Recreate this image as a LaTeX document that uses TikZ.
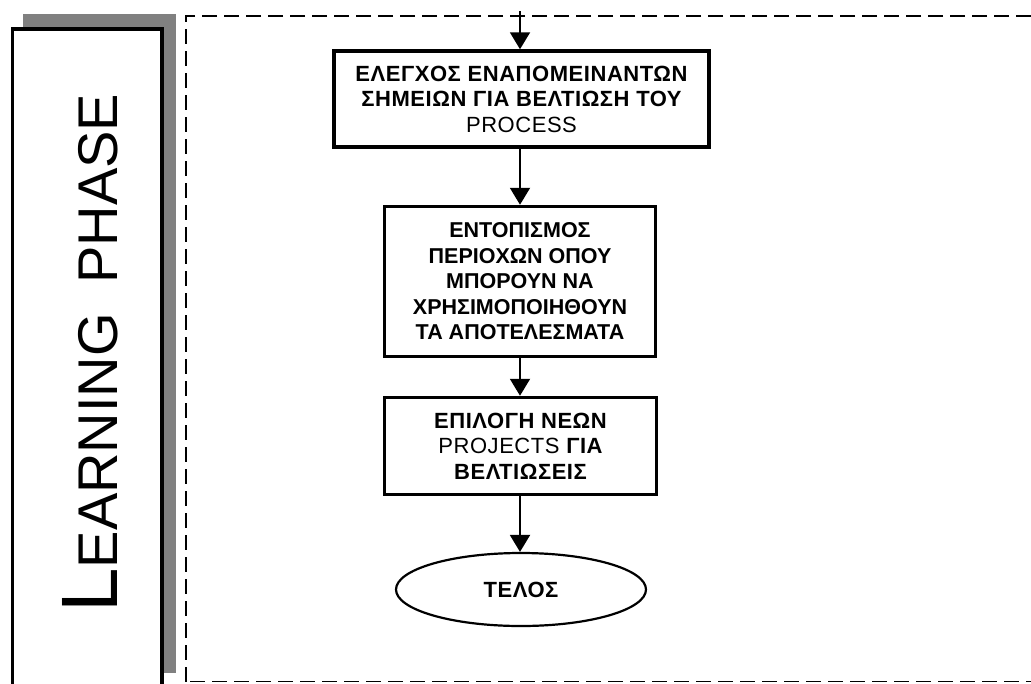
\documentclass[tikz,border=0pt]{standalone}
\usepackage{fontspec}
\setmainfont{Liberation Sans}
\newfontfamily\widebox[LetterSpace=2.5]{Liberation Sans}
\usetikzlibrary{arrows.meta,shapes.geometric}

\tikzset{
  flowbox/.style={draw=black, line width=3.5pt, fill=white, align=center,
    inner sep=0pt, font=\widebox\bfseries\fontsize{22}{25.5}\selectfont},
  tightbox/.style={flowbox, font=\bfseries\fontsize{21.5}{25.5}\selectfont},
  endnode/.style={draw=black, line width=2.2pt, ellipse, inner sep=0pt,
    minimum width=250pt, minimum height=73pt,
    font=\widebox\bfseries\fontsize{22}{25}\selectfont},
  flow/.style={line width=2pt, -{Triangle[width=20pt,length=17pt]}},
  frame/.style={line width=1.6pt, dash pattern=on 15pt off 7pt},
  phasebox/.style={draw=black, line width=3.5pt, fill=white},
  shadowbox/.style={fill=black!50, draw=none},
}
\newcommand{\rg}[1]{{\mdseries #1}}

\begin{document}
\begin{tikzpicture}[x=1pt, y=-1pt]
  \useasboundingbox (0,0) rectangle (1031,683);

  % side panel with its shadow
  \fill[shadowbox] (23,14) rectangle (176,673);
  \draw[phasebox] (12.5,29) rectangle (162,690);
  \node[rotate=90, anchor=base west, inner sep=0pt] (phase) at (117,613)
    {{\fontsize{80}{80}\selectfont L}{\fontsize{56}{56}\selectfont EARNING\hspace{14pt} PHASE}};

  % dashed frame of the phase area
  \draw[frame] (1031,16) -- (186,16) -- (186,683);
  \draw[frame] (190,681.5) -- (1031,681.5);

  % flow chart
  \coordinate (in) at (520,11);
  \node[flowbox, minimum width=375pt, minimum height=96pt] (check) at (521.5,99)
    {ΕΛΕΓΧΟΣ ΕΝΑΠΟΜΕΙΝΑΝΤΩΝ\\ΣΗΜΕΙΩΝ ΓΙΑ ΒΕΛΤΙΩΣΗ ΤΟΥ\\\rg{PROCESS}};
  \node[tightbox, minimum width=271pt, minimum height=150pt] (locate) at (520,281.5)
    {ΕΝΤΟΠΙΣΜΟΣ\\ΠΕΡΙΟΧΩΝ ΟΠΟΥ\\ΜΠΟΡΟΥΝ ΝΑ\\ΧΡΗΣΙΜΟΠΟΙΗΘΟΥΝ\\ΤΑ ΑΠΟΤΕΛΕΣΜΑΤΑ};
  \node[flowbox, minimum width=272pt, minimum height=97pt] (select) at (520.5,446)
    {ΕΠΙΛΟΓΗ ΝΕΩΝ\\\rg{PROJECTS} ΓΙΑ\\ΒΕΛΤΙΩΣΕΙΣ};
  \node[endnode] (end) at (521,589.5) {ΤΕΛΟΣ};

  \draw[flow] (in) -- (in |- check.north);
  \draw[flow] (check.south -| in) -- (in |- locate.north);
  \draw[flow] (locate.south -| in) -- (in |- select.north);
  \draw[flow] (select.south -| in) -- (in |- end.north);
\end{tikzpicture}
\end{document}
